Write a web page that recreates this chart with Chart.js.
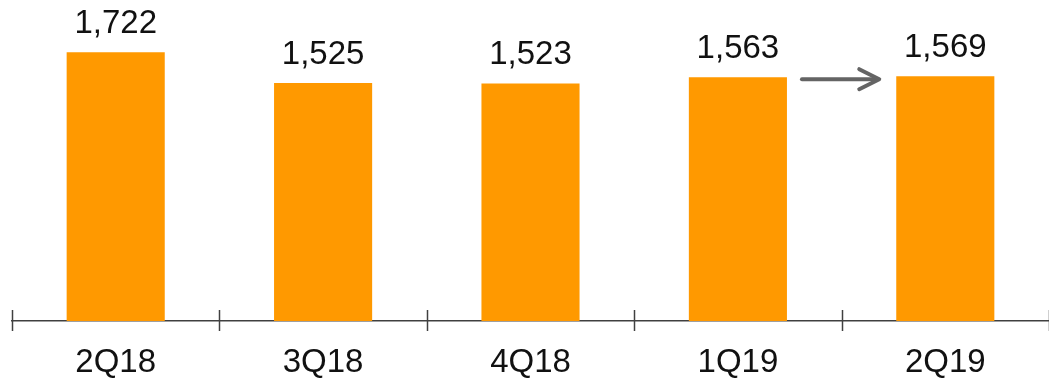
<!DOCTYPE html>
<html>
<head>
<meta charset="utf-8">
<script src="https://cdn.jsdelivr.net/npm/chart.js@4.4.1/dist/chart.umd.min.js"></script>
<style>
  html, body { margin: 0; padding: 0; background: #ffffff; }
  #wrap { width: 1049px; height: 378px; position: relative; }
</style>
</head>
<body>
<div id="wrap"><canvas id="chart"></canvas></div>
<script>
// Trimestres y valores
const quarters = ['2Q18', '3Q18', '4Q18', '1Q19', '2Q19'];
const values = [1722, 1525, 1523, 1563, 1569];

const FONT = '"Liberation Sans", Arial, sans-serif';

// Etiquetas de valor encima de cada barra
const valueLabels = {
    id: 'valueLabels',
    afterDatasetsDraw(chart) {
        const ctx = chart.ctx;
        const meta = chart.getDatasetMeta(0);
        ctx.save();
        ctx.fillStyle = '#111111';
        ctx.font = '33px ' + FONT;
        ctx.textAlign = 'center';
        ctx.textBaseline = 'alphabetic';
        meta.data.forEach((bar, i) => {
            ctx.fillText(values[i].toLocaleString('en-US'), bar.x, bar.y - 19);
        });
        ctx.restore();
    }
};

// Marcas del eje entre categorías (por encima y por debajo de la línea)
const axisTicks = {
    id: 'axisTicks',
    afterDraw(chart) {
        const ctx = chart.ctx;
        const x = chart.scales.x;
        const y0 = chart.chartArea.bottom;
        const step = x.getPixelForValue(1) - x.getPixelForValue(0);
        ctx.save();
        ctx.strokeStyle = '#404040';
        ctx.lineWidth = 1.5;
        for (let i = 0; i <= quarters.length; i++) {
            const px = Math.round(x.getPixelForValue(0) - step / 2 + i * step) + 0.5;
            ctx.beginPath();
            ctx.moveTo(px, y0 - 11);
            ctx.lineTo(px, y0 + 10);
            ctx.stroke();
        }
        ctx.restore();
    }
};

// Flecha gris entre 1Q19 y 2Q19
const arrow = {
    id: 'arrow',
    afterDatasetsDraw(chart) {
        const ctx = chart.ctx;
        const bars = chart.getDatasetMeta(0).data;
        const a = bars[3], b = bars[4];
        const x1 = a.x + a.width / 2 + 15;
        const x2 = b.x - b.width / 2 - 17;
        const y = a.y + 2;
        ctx.save();
        ctx.strokeStyle = '#646464';
        ctx.lineWidth = 4;
        ctx.lineCap = 'round';
        ctx.lineJoin = 'round';
        ctx.beginPath();
        ctx.moveTo(x1, y);
        ctx.lineTo(x2 - 2, y);
        ctx.stroke();
        ctx.beginPath();
        ctx.moveTo(x2 - 20, y - 10);
        ctx.lineTo(x2, y);
        ctx.lineTo(x2 - 20, y + 10);
        ctx.stroke();
        ctx.restore();
    }
};

new Chart(document.getElementById('chart'), {
    type: 'bar',
    data: {
        labels: quarters,
        datasets: [{
            data: values,
            backgroundColor: '#FF9900',
            borderWidth: 0,
            categoryPercentage: 1,
            barPercentage: 0.473
        }]
    },
    options: {
        responsive: true,
        maintainAspectRatio: false,
        animation: false,
        layout: { padding: { top: 9, left: 12, right: 0, bottom: 0 } },
        plugins: {
            legend: { display: false },
            tooltip: { enabled: false }
        },
        scales: {
            x: {
                grid: { display: false, drawTicks: false },
                border: { display: true, color: '#404040', width: 1.5 },
                ticks: {
                    color: '#111111',
                    font: { family: FONT, size: 33 },
                    padding: 22
                },
                afterFit(scale) { scale.height = 57; }
            },
            y: {
                display: false,
                min: 0,
                max: 2000
            }
        }
    },
    plugins: [valueLabels, axisTicks, arrow]
});
</script>
</body>
</html>
